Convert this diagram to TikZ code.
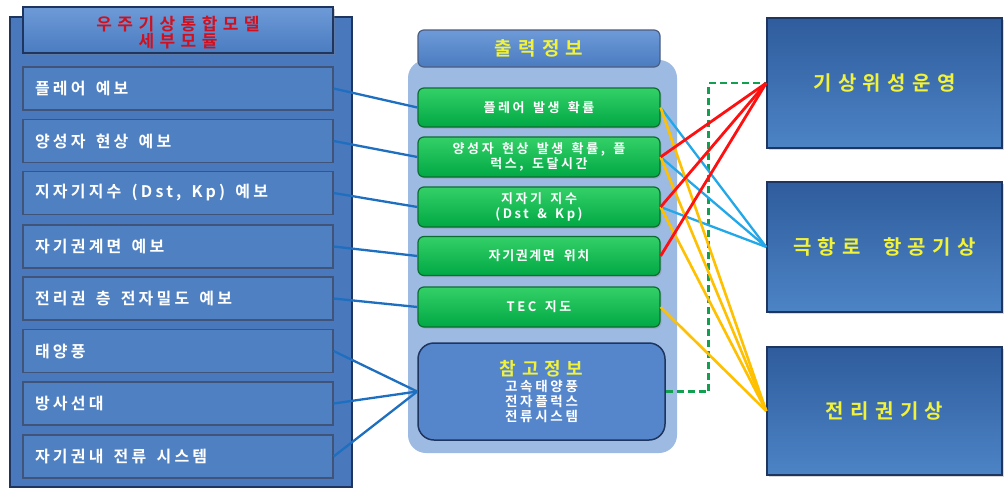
\documentclass[tikz,border=0pt]{standalone}
\usepackage{fontspec}
\newfontfamily\kr{Noto Sans CJK KR Bold}[LetterSpace=20,WordSpace=1.5]
\newfontfamily\krw{Noto Sans CJK KR Bold}[LetterSpace=32,WordSpace=2]
\newfontfamily\krt{Noto Sans CJK KR Bold}[LetterSpace=12,WordSpace=2]
\usetikzlibrary{shadows}
\definecolor{framefill}{HTML}{4A78BC}
\definecolor{lbfill}{HTML}{4F80C2}
\definecolor{lbdark}{HTML}{1E3560}
\definecolor{hdrtop}{HTML}{6E9AD8}
\definecolor{hdrbot}{HTML}{4A7CC0}
\definecolor{panel}{HTML}{9DBAE2}
\definecolor{gtop}{HTML}{34D068}
\definecolor{gbot}{HTML}{00A844}
\definecolor{gborder}{HTML}{0B6E2E}
\definecolor{rbtop}{HTML}{2F5C9C}
\definecolor{rbbot}{HTML}{4C84C6}
\definecolor{reffill}{HTML}{5586CC}
\definecolor{conblue}{HTML}{1F6FC0}
\definecolor{concyan}{HTML}{22A8E8}
\definecolor{conorange}{HTML}{FFC000}
\definecolor{conred}{HTML}{FF1010}
\definecolor{condash}{HTML}{12A050}
\definecolor{ytext}{HTML}{F2F23A}
\definecolor{rtext}{HTML}{D0101E}
\newcommand{\lefttxt}[1]{\makebox[286pt][l]{#1}}
\begin{document}
\begin{tikzpicture}[x=1pt,y=-1pt,
  leftitem/.style={draw=lbdark!85, line width=1.2pt, fill=lbfill,
    minimum width=310pt, minimum height=43pt, inner xsep=12pt,
    text=white, font=\kr\fontsize{16}{18}\selectfont},
  hdrbox/.style={draw=lbdark, line width=1.2pt, top color=hdrtop, bottom color=hdrbot,
    minimum width=310pt, minimum height=46pt, align=center, inner sep=0pt,
    text=rtext, font=\krw\fontsize{17}{17}\selectfont, drop shadow={opacity=0.35}},
  midhdr/.style={draw=lbdark!80, line width=1.2pt, top color=hdrtop, bottom color=hdrbot,
    rounded corners=6pt, minimum width=242pt, minimum height=37pt, inner sep=0pt,
    text=ytext, font=\krw\fontsize{19}{19}\selectfont},
  gbox/.style={draw=gborder, line width=1.2pt, top color=gtop, bottom color=gbot,
    rounded corners=6pt, minimum width=242pt, minimum height=39pt, inner sep=0pt,
    align=center, text=white, font=\kr\fontsize{13}{14.5}\selectfont,
    drop shadow={opacity=0.3, shadow xshift=1.5pt, shadow yshift=-1.5pt}},
  refbox/.style={draw=lbdark, line width=1.5pt, fill=reffill, rounded corners=16pt,
    minimum width=247pt, minimum height=97pt, inner sep=0pt, align=center,
    text=white, font=\kr\fontsize{13.5}{15}\selectfont},
  rbox/.style={draw=lbdark, line width=1.5pt, top color=rbtop, bottom color=rbbot,
    minimum width=235pt, inner sep=0pt, text=ytext, font=\krw\fontsize{20}{20}\selectfont,
    drop shadow={opacity=0.3, shadow xshift=2pt, shadow yshift=-2pt}},
  lblue/.style={conblue, line width=2.3pt},
  lcyan/.style={concyan, line width=2.3pt},
  lorange/.style={conorange, line width=2.6pt},
  lred/.style={conred, line width=2.8pt},
  ldash/.style={condash, line width=2.8pt, dash pattern=on 7pt off 4pt}
]
\useasboundingbox (0,0) rectangle (1004,491);
\fill[white] (0,0) rectangle (1004,491);

% left column
\draw[draw=lbdark, line width=1.6pt, fill=framefill] (10,17) rectangle (352,487);
\node[hdrbox] (hd) at (178,30) {\rule{0pt}{20pt}우주기상통합모델\\세부모듈};
\node[leftitem] (l1) at (178,88.5) {\lefttxt{플레어 예보}};
\node[leftitem] (l2) at (178,141) {\lefttxt{양성자 현상 예보}};
\node[leftitem] (l3) at (178,193) {\lefttxt{지자기지수 (Dst, Kp) 예보}};
\node[leftitem] (l4) at (178,246.5) {\lefttxt{자기권계면 예보}};
\node[leftitem] (l5) at (178,298.5) {\lefttxt{전리권 층 전자밀도 예보}};
\node[leftitem] (l6) at (178,351) {\lefttxt{태양풍}};
\node[leftitem] (l7) at (178,403.5) {\lefttxt{방사선대}};
\node[leftitem] (l8) at (178,456.5) {\lefttxt{자기권내 전류 시스템}};

% middle column
\fill[panel, rounded corners=18pt] (408,60) rectangle (677,453);
\node[midhdr] (mh) at (539,48.5) {출력정보};
\node[gbox] (g1) at (539,107.5) {플레어 발생 확률};
\node[gbox, minimum height=40pt] (g2) at (539,157) {양성자 현상 발생 확률, 플\\럭스, 도달시간};
\node[gbox, minimum height=40pt] (g3) at (539,207) {지자기 지수\\(Dst \& Kp)};
\node[gbox, font=\krt\fontsize{13}{14.5}\selectfont] (g4) at (539,256) {자기권계면 위치};
\node[gbox, minimum height=40pt] (g5) at (539,307) {TEC 지도};
\node[refbox] (ref) at (541.5,391.5) {{\krw\fontsize{18}{19}\selectfont\color{ytext}참고정보}\\[1pt]고속태양풍\\전자플럭스\\전류시스템};

% right column
\node[rbox, minimum height=130pt] (rb1) at (884.5,83) {기상위성운영};
\node[rbox, minimum height=130pt] (rb2) at (884.5,247) {극항로 항공기상};
\node[rbox, minimum height=128pt] (rb3) at (884.5,411) {전리권기상};

% left connectors
\draw[lblue] (l1.east) -- (g1.west);
\draw[lblue] (l2.east) -- (g2.west);
\draw[lblue] (l3.east) -- (g3.west);
\draw[lblue] (l4.east) -- (g4.west);
\draw[lblue] (l5.east) -- (g5.west);
\draw[lblue] (l6.east) -- (ref.west);
\draw[lblue] (l7.east) -- (ref.west);
\draw[lblue] (l8.east) -- (ref.west);

% right connectors
\draw[ldash] (ref.east) -- ++(43,0) |- (rb1.west);
\foreach \g in {g1,g2,g3} \draw[lcyan] (\g.east) -- (rb2.west);
\foreach \g in {g1,g2,g3,g5} \draw[lorange] (\g.east) -- (rb3.west);
\foreach \g in {g2,g3,g4} \draw[lred] (\g.east) -- (rb1.west);
\end{tikzpicture}
\end{document}
